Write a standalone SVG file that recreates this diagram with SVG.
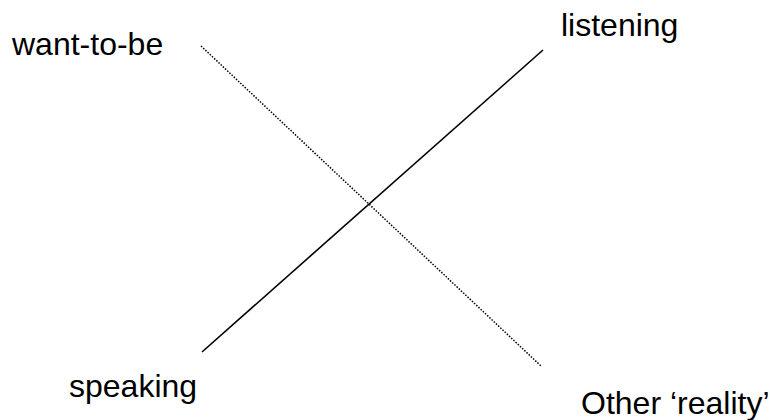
<svg xmlns="http://www.w3.org/2000/svg" width="770" height="420" viewBox="0 0 770 420">
<style>
text{font-family:"Liberation Sans",Arial,sans-serif;font-size:32px;fill:#000}
.solid{stroke:#000;stroke-width:1.6;fill:none}
.dot{stroke:#000;stroke-width:1.5;stroke-dasharray:1.5 1.5;fill:none}
</style>
<rect width="770" height="420" fill="#fff"/>
<g id="connectors">
<line class="solid" x1="202" y1="352" x2="543" y2="50"/>
<line class="dot" x1="201" y1="46" x2="541" y2="366"/>
</g>
<g id="want-to-be"><text x="12" y="55">want-to-be</text></g>
<g id="listening"><text x="561" y="36">listening</text></g>
<g id="speaking"><text x="69" y="397">speaking</text></g>
<g id="other-reality"><text x="581" y="414">Other ‘reality’</text></g>
</svg>
